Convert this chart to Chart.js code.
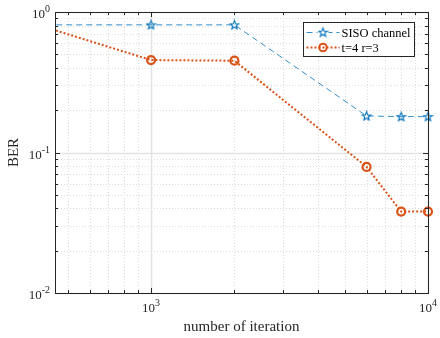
<!DOCTYPE html>
<html>
<head>
<meta charset="utf-8">
<script src="https://cdn.jsdelivr.net/npm/chart.js@4/dist/chart.umd.min.js"></script>
<style>
  html, body { margin: 0; padding: 0; background: #fff; }
  #wrap { width: 440px; height: 338px; }
</style>
</head>
<body>
<div id="wrap"><canvas id="berChart" width="440" height="338"></canvas></div>
<script>
// data
const iterations = [300, 1000, 2000, 6000, 8000, 10000];
const berSISO = [0.81, 0.81, 0.81, 0.182, 0.18, 0.18];
const berMIMO = [0.95, 0.455, 0.45, 0.079, 0.038, 0.038];
const seriesNames = ['SISO channel', 't=4 r=3'];

const xMin = 450, xMax = 10000;
const yMin = 0.01, yMax = 1;
const xMajor = [1000, 10000];
const yMajor = [0.01, 0.1, 1];
const xTickLabels = ['3', '4'];
const yTickLabels = ['-2', '-1', '0'];

const BLUE = '#0072BD';
const ORANGE = '#D95319';
const SERIF = '"Liberation Serif", "Times New Roman", serif';

function minorValues(min, max) {
    const out = [];
    for (let d = Math.floor(Math.log10(min)); d < Math.ceil(Math.log10(max)); d++) {
        for (let m = 1; m < 10; m++) {
            const v = m * Math.pow(10, d);
            if (v >= min * 0.999 && v <= max * 1.001) out.push({ v, major: m === 1 });
        }
    }
    return out;
}

// pentagram marker (unfilled)
function makeStar(color) {
    const c = document.createElement('canvas');
    c.width = 11; c.height = 11;
    const g = c.getContext('2d');
    g.strokeStyle = color;
    g.lineWidth = 1.1;
    g.beginPath();
    for (let i = 0; i < 10; i++) {
        const r = i % 2 === 0 ? 4.5 : 1.9;
        const a = -Math.PI / 2 + i * Math.PI / 5;
        const px = 5.5 + r * Math.cos(a), py = 5.8 + r * Math.sin(a);
        if (i === 0) g.moveTo(px, py); else g.lineTo(px, py);
    }
    g.closePath();
    g.stroke();
    return c;
}
const starImg = makeStar(BLUE);

const matlabAxes = {
    id: 'matlabAxes',
    beforeDatasetsDraw(chart) {
        const { ctx, chartArea: a, scales: { x, y } } = chart;
        ctx.save();
        ctx.lineWidth = 1;
        // minor grid, dotted
        ctx.strokeStyle = '#dcdcdc';
        ctx.setLineDash([1, 2]);
        minorValues(xMin, xMax).filter(t => !t.major).forEach(t => {
            const px = Math.round(x.getPixelForValue(t.v)) + 0.5;
            ctx.beginPath(); ctx.moveTo(px, a.top); ctx.lineTo(px, a.bottom); ctx.stroke();
        });
        minorValues(yMin, yMax).filter(t => !t.major).forEach(t => {
            const py = Math.round(y.getPixelForValue(t.v)) + 0.5;
            ctx.beginPath(); ctx.moveTo(a.left, py); ctx.lineTo(a.right, py); ctx.stroke();
        });
        // major grid, solid
        ctx.setLineDash([]);
        ctx.strokeStyle = '#e3e3e3';
        ctx.lineWidth = 1.5;
        xMajor.forEach(v => {
            const px = Math.round(x.getPixelForValue(v)) + 0.5;
            ctx.beginPath(); ctx.moveTo(px, a.top); ctx.lineTo(px, a.bottom); ctx.stroke();
        });
        yMajor.forEach(v => {
            const py = Math.round(y.getPixelForValue(v)) + 0.5;
            ctx.beginPath(); ctx.moveTo(a.left, py); ctx.lineTo(a.right, py); ctx.stroke();
        });
        ctx.restore();
    },
    afterDatasetsDraw(chart) {
        const { ctx, chartArea: a, scales: { x, y } } = chart;
        ctx.save();
        ctx.strokeStyle = '#262626';
        ctx.lineWidth = 1;
        // box
        ctx.strokeRect(Math.round(a.left) + 0.5, Math.round(a.top) + 0.5,
            Math.round(a.right - a.left), Math.round(a.bottom - a.top));
        // ticks inside, all four sides
        minorValues(xMin, xMax).forEach(t => {
            const px = Math.round(x.getPixelForValue(t.v)) + 0.5;
            const len = t.major ? 5 : 3;
            ctx.beginPath();
            ctx.moveTo(px, a.bottom); ctx.lineTo(px, a.bottom - len);
            ctx.moveTo(px, a.top); ctx.lineTo(px, a.top + len);
            ctx.stroke();
        });
        minorValues(yMin, yMax).forEach(t => {
            const py = Math.round(y.getPixelForValue(t.v)) + 0.5;
            const len = t.major ? 5 : 3;
            ctx.beginPath();
            ctx.moveTo(a.left, py); ctx.lineTo(a.left + len, py);
            ctx.moveTo(a.right, py); ctx.lineTo(a.right - len, py);
            ctx.stroke();
        });

        // tick labels 10^n
        ctx.fillStyle = '#262626';
        ctx.textBaseline = 'alphabetic';
        const baseFont = '13px ' + SERIF, supFont = '10px ' + SERIF;
        function powerWidth(exp) {
            ctx.font = baseFont; const w1 = ctx.measureText('10').width;
            ctx.font = supFont; const w2 = ctx.measureText(exp).width;
            return [w1, w2];
        }
        function drawPower(exp, left, baseline) {
            const [w1] = powerWidth(exp);
            ctx.font = baseFont; ctx.textAlign = 'left';
            ctx.fillText('10', left, baseline);
            ctx.font = supFont;
            ctx.fillText(exp, left + w1, baseline - 6);
        }
        yMajor.forEach((v, i) => {
            const exp = yTickLabels[i];
            const [w1, w2] = powerWidth(exp);
            const py = y.getPixelForValue(v);
            drawPower(exp, a.left - 5 - w1 - w2, py + 6);
        });
        xMajor.forEach((v, i) => {
            const exp = xTickLabels[i];
            const [w1, w2] = powerWidth(exp);
            const px = x.getPixelForValue(v);
            drawPower(exp, px - (w1 + w2) / 2, a.bottom + 19);
        });

        // axis titles
        ctx.font = '15px ' + SERIF;
        ctx.textAlign = 'center';
        ctx.textBaseline = 'alphabetic';
        ctx.fillText('number of iteration', (a.left + a.right) / 2, a.bottom + 38);
        ctx.save();
        ctx.translate(18, (a.top + a.bottom) / 2);
        ctx.rotate(-Math.PI / 2);
        ctx.fillText('BER', 0, 0);
        ctx.restore();

        // legend
        const lx = 303.5, ly = 22.5, lw = 111, lh = 34;
        ctx.fillStyle = '#fff';
        ctx.fillRect(lx, ly, lw, lh);
        ctx.strokeStyle = '#262626';
        ctx.lineWidth = 1;
        ctx.strokeRect(lx, ly, lw, lh);

        const rows = [ly + 10, ly + 25];
        // SISO entry
        ctx.strokeStyle = BLUE; ctx.lineWidth = 0.8; ctx.setLineDash([6, 4]);
        ctx.beginPath(); ctx.moveTo(lx + 3, rows[0]); ctx.lineTo(lx + 36, rows[0]); ctx.stroke();
        ctx.setLineDash([]);
        ctx.fillStyle = '#fff'; ctx.fillRect(lx + 14, rows[0] - 5, 11, 10);
        ctx.drawImage(starImg, lx + 19.5 - 5.5, rows[0] - 5.8);
        // MIMO entry
        ctx.strokeStyle = ORANGE; ctx.lineWidth = 2; ctx.setLineDash([2, 2]);
        ctx.beginPath(); ctx.moveTo(lx + 3, rows[1]); ctx.lineTo(lx + 36, rows[1]); ctx.stroke();
        ctx.setLineDash([]);
        ctx.beginPath(); ctx.arc(lx + 19.5, rows[1], 3.8, 0, Math.PI * 2); ctx.stroke();

        ctx.fillStyle = '#000';
        ctx.font = '12.5px ' + SERIF;
        ctx.textAlign = 'left';
        ctx.textBaseline = 'middle';
        ctx.fillText(seriesNames[0], lx + 38, rows[0] + 1);
        ctx.fillText(seriesNames[1], lx + 38, rows[1] + 1);
        ctx.restore();
    }
};

new Chart(document.getElementById('berChart'), {
    type: 'line',
    data: {
        datasets: [
            {
                label: seriesNames[0],
                data: iterations.map((v, i) => ({ x: v, y: berSISO[i] })),
                borderColor: BLUE,
                borderWidth: 0.8,
                borderDash: [6, 4],
                pointStyle: starImg,
                pointRadius: 5,
                tension: 0,
                clip: { left: 0, top: 8, right: 8, bottom: 8 }
            },
            {
                label: seriesNames[1],
                data: iterations.map((v, i) => ({ x: v, y: berMIMO[i] })),
                borderColor: ORANGE,
                borderWidth: 2,
                borderDash: [2, 2],
                pointStyle: 'circle',
                pointRadius: 4,
                pointBorderWidth: 2.2,
                pointBorderColor: ORANGE,
                pointBackgroundColor: 'rgba(255,255,255,0)',
                tension: 0,
                clip: { left: 0, top: 8, right: 8, bottom: 8 }
            }
        ]
    },
    options: {
        responsive: false,
        animation: false,
        devicePixelRatio: 1,
        layout: { padding: { left: 47, top: 12, right: 12, bottom: 37 } },
        plugins: { legend: { display: false }, tooltip: { enabled: false } },
        scales: {
            x: {
                type: 'logarithmic', min: xMin, max: xMax,
                ticks: { display: false },
                grid: { display: false },
                border: { display: false }
            },
            y: {
                type: 'logarithmic', min: yMin, max: yMax,
                ticks: { display: false },
                grid: { display: false },
                border: { display: false }
            }
        }
    },
    plugins: [matlabAxes]
});
</script>
</body>
</html>
